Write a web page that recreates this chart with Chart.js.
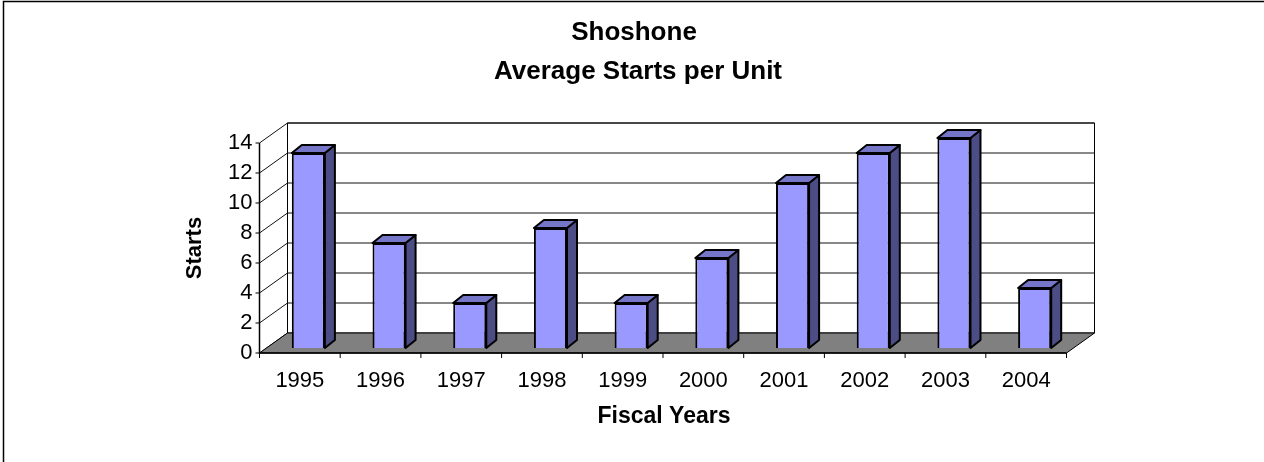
<!DOCTYPE html>
<html>
<head>
<meta charset="utf-8">
<script src="https://cdn.jsdelivr.net/npm/chart.js@4"></script>
<style>
  html, body { margin: 0; padding: 0; background: #fff; }
  #wrap { width: 1264px; height: 462px; }
</style>
</head>
<body>
<div id="wrap"><canvas id="chart" width="1264" height="462"></canvas></div>
<script>
const years = ["1995", "1996", "1997", "1998", "1999", "2000", "2001", "2002", "2003", "2004"];
const starts = [13, 7, 3, 8, 3, 6, 11, 13, 14, 4];
const yTicks = [0, 2, 4, 6, 8, 10, 12, 14];
const titleLines = ["Shoshone", "Average Starts per Unit"];
const xTitle = "Fiscal Years";
const yTitle = "Starts";

// 3d offsets relative to the plane where the bars stand
const FRONT = { dx: -8.5, dy: 5 };
const BACK = { dx: 19.5, dy: -15 };
const BAR_DEPTH = { dx: 10, dy: -8 };
const FONT = "'Liberation Sans', Arial, sans-serif";

function poly(ctx, pts, fill) {
  ctx.beginPath();
  ctx.moveTo(pts[0][0], pts[0][1]);
  for (let i = 1; i < pts.length; i++) ctx.lineTo(pts[i][0], pts[i][1]);
  ctx.closePath();
  if (fill) { ctx.fillStyle = fill; ctx.fill(); }
  ctx.stroke();
}

const frame3d = {
  id: "frame3d",
  beforeDatasetsDraw(chart) {
    const ctx = chart.ctx;
    const xs = chart.scales.x, ys = chart.scales.y;
    const L = xs.left, R = xs.right;
    const y0 = ys.getPixelForValue(0), yTop = ys.getPixelForValue(14);
    ctx.save();

    // outer border
    ctx.strokeStyle = "#000";
    ctx.lineWidth = 1.5;
    ctx.strokeRect(3.5, 1.5, 1300, 500);

    // back wall
    ctx.lineWidth = 1;
    poly(ctx, [[L + BACK.dx, yTop + BACK.dy], [R + BACK.dx, yTop + BACK.dy],
               [R + BACK.dx, y0 + BACK.dy], [L + BACK.dx, y0 + BACK.dy]], "#fff");

    // gridlines on back wall and left wall
    ctx.strokeStyle = "#111";
    yTicks.forEach(v => {
      const y = ys.getPixelForValue(v);
      ctx.beginPath();
      ctx.moveTo(L + FRONT.dx, y + FRONT.dy);
      ctx.lineTo(L + BACK.dx, y + BACK.dy);
      if (v > 0) ctx.lineTo(R + BACK.dx, y + BACK.dy);
      ctx.stroke();
    });

    // floor
    ctx.strokeStyle = "#000";
    poly(ctx, [[L + FRONT.dx, y0 + FRONT.dy], [R + FRONT.dx, y0 + FRONT.dy],
               [R + BACK.dx, y0 + BACK.dy], [L + BACK.dx, y0 + BACK.dy]], "#808080");

    // front axes
    ctx.lineWidth = 1.5;
    ctx.beginPath();
    ctx.moveTo(L + FRONT.dx, yTop + FRONT.dy);
    ctx.lineTo(L + FRONT.dx, y0 + FRONT.dy);
    ctx.lineTo(R + FRONT.dx, y0 + FRONT.dy);
    ctx.stroke();

    // y ticks + labels
    ctx.lineWidth = 1;
    ctx.fillStyle = "#000";
    ctx.font = "22px " + FONT;
    ctx.textAlign = "right";
    ctx.textBaseline = "middle";
    yTicks.forEach(v => {
      const y = ys.getPixelForValue(v) + FRONT.dy;
      ctx.beginPath();
      ctx.moveTo(L + FRONT.dx - 4, y);
      ctx.lineTo(L + FRONT.dx, y);
      ctx.stroke();
      ctx.fillText(String(v), L + FRONT.dx - 7, y);
    });

    // x ticks + labels
    const step = (R - L) / years.length;
    for (let i = 0; i <= years.length; i++) {
      const x = L + FRONT.dx + step * i;
      ctx.beginPath();
      ctx.moveTo(x, y0 + FRONT.dy);
      ctx.lineTo(x, y0 + FRONT.dy + 5);
      ctx.stroke();
    }
    ctx.textAlign = "center";
    years.forEach((lab, i) => {
      ctx.fillText(lab, xs.getPixelForValue(i) + FRONT.dx, y0 + FRONT.dy + 28);
    });

    // titles
    ctx.font = "bold 26px " + FONT;
    ctx.fillText(titleLines[0], 634, 33);
    ctx.fillText(titleLines[1], 638, 72);
    ctx.font = "bold 23px " + FONT;
    ctx.fillText(xTitle, 664, 417);
    ctx.font = "bold 22px " + FONT;
    ctx.save();
    ctx.translate(195, 248);
    ctx.rotate(-Math.PI / 2);
    ctx.fillText(yTitle, 0, 0);
    ctx.restore();

    ctx.restore();
  },
  afterDatasetsDraw(chart) {
    const ctx = chart.ctx;
    const meta = chart.getDatasetMeta(0);
    ctx.save();
    ctx.strokeStyle = "#000";
    ctx.lineWidth = 2;
    ctx.lineJoin = "round";
    meta.data.forEach(bar => {
      const { x, y, base, width } = bar.getProps(["x", "y", "base", "width"], true);
      const l = x - width / 2, r = x + width / 2;
      poly(ctx, [[r, y], [r + BAR_DEPTH.dx, y + BAR_DEPTH.dy],
                 [r + BAR_DEPTH.dx, base + BAR_DEPTH.dy], [r, base]], "#4d4d85");
      poly(ctx, [[l, y], [l + BAR_DEPTH.dx, y + BAR_DEPTH.dy],
                 [r + BAR_DEPTH.dx, y + BAR_DEPTH.dy], [r, y]], "#7676c8");
    });
    ctx.restore();
  }
};

new Chart(document.getElementById("chart"), {
  type: "bar",
  data: {
    labels: years,
    datasets: [{
      data: starts,
      backgroundColor: "#9999ff",
      borderColor: "#000",
      borderWidth: 2,
      categoryPercentage: 1,
      barPercentage: 0.41
    }]
  },
  options: {
    responsive: false,
    animation: false,
    layout: { padding: { left: 268, right: 189, top: 138, bottom: 114 } },
    plugins: { legend: { display: false }, tooltip: { enabled: false }, title: { display: false } },
    scales: {
      x: { display: false, offset: true },
      y: { display: false, min: 0, max: 14 }
    }
  },
  plugins: [frame3d]
});
</script>
</body>
</html>
